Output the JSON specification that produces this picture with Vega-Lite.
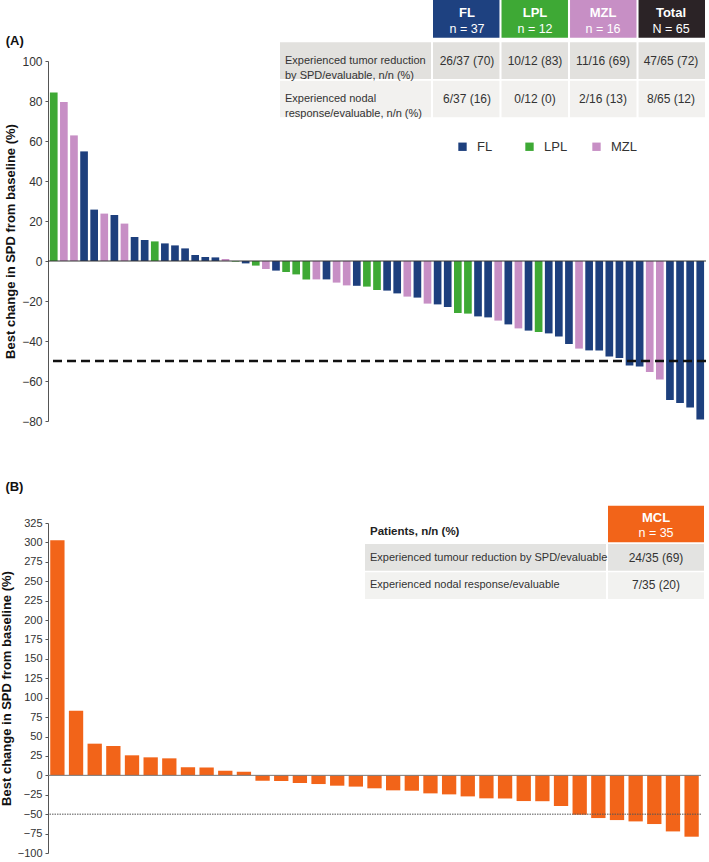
{
  "$schema": "https://vega.github.io/schema/vega-lite/v6.json",
  "background": "white",
  "padding": {"left": 0, "top": 0, "right": 0, "bottom": 0},
  "spacing": 53,
  "config": {
    "view": {"stroke": null},
    "font": "Liberation Sans",
    "axis": {"grid": false}
  },
  "datasets": {
    "A": [
      {"id": 1, "subtype": "LPL", "change": 84.3},
      {"id": 2, "subtype": "MZL", "change": 79.5},
      {"id": 3, "subtype": "MZL", "change": 62.8},
      {"id": 4, "subtype": "FL", "change": 54.8},
      {"id": 5, "subtype": "FL", "change": 25.7},
      {"id": 6, "subtype": "MZL", "change": 23.7},
      {"id": 7, "subtype": "FL", "change": 23.0},
      {"id": 8, "subtype": "MZL", "change": 18.7},
      {"id": 9, "subtype": "FL", "change": 12.0},
      {"id": 10, "subtype": "FL", "change": 10.5},
      {"id": 11, "subtype": "LPL", "change": 9.8},
      {"id": 12, "subtype": "FL", "change": 8.8},
      {"id": 13, "subtype": "FL", "change": 7.8},
      {"id": 14, "subtype": "FL", "change": 6.3},
      {"id": 15, "subtype": "FL", "change": 3.0},
      {"id": 16, "subtype": "FL", "change": 2.0},
      {"id": 17, "subtype": "FL", "change": 1.8},
      {"id": 18, "subtype": "MZL", "change": 1.0},
      {"id": 19, "subtype": "LPL", "change": -0.3},
      {"id": 20, "subtype": "FL", "change": -1.2},
      {"id": 21, "subtype": "LPL", "change": -2.3},
      {"id": 22, "subtype": "MZL", "change": -4.0},
      {"id": 23, "subtype": "FL", "change": -4.8},
      {"id": 24, "subtype": "LPL", "change": -5.5},
      {"id": 25, "subtype": "LPL", "change": -6.7},
      {"id": 26, "subtype": "LPL", "change": -9.2},
      {"id": 27, "subtype": "MZL", "change": -9.2},
      {"id": 28, "subtype": "FL", "change": -9.2},
      {"id": 29, "subtype": "MZL", "change": -10.8},
      {"id": 30, "subtype": "MZL", "change": -12.2},
      {"id": 31, "subtype": "FL", "change": -12.4},
      {"id": 32, "subtype": "LPL", "change": -12.8},
      {"id": 33, "subtype": "LPL", "change": -14.5},
      {"id": 34, "subtype": "FL", "change": -14.8},
      {"id": 35, "subtype": "FL", "change": -16.2},
      {"id": 36, "subtype": "MZL", "change": -17.8},
      {"id": 37, "subtype": "FL", "change": -18.3},
      {"id": 38, "subtype": "MZL", "change": -21.3},
      {"id": 39, "subtype": "FL", "change": -21.7},
      {"id": 40, "subtype": "FL", "change": -23.0},
      {"id": 41, "subtype": "LPL", "change": -26.0},
      {"id": 42, "subtype": "LPL", "change": -26.3},
      {"id": 43, "subtype": "FL", "change": -27.7},
      {"id": 44, "subtype": "FL", "change": -28.2},
      {"id": 45, "subtype": "MZL", "change": -29.8},
      {"id": 46, "subtype": "FL", "change": -31.7},
      {"id": 47, "subtype": "MZL", "change": -33.7},
      {"id": 48, "subtype": "FL", "change": -34.8},
      {"id": 49, "subtype": "LPL", "change": -35.5},
      {"id": 50, "subtype": "FL", "change": -36.2},
      {"id": 51, "subtype": "FL", "change": -37.8},
      {"id": 52, "subtype": "FL", "change": -41.5},
      {"id": 53, "subtype": "MZL", "change": -43.8},
      {"id": 54, "subtype": "FL", "change": -44.7},
      {"id": 55, "subtype": "FL", "change": -44.8},
      {"id": 56, "subtype": "FL", "change": -47.8},
      {"id": 57, "subtype": "FL", "change": -48.5},
      {"id": 58, "subtype": "FL", "change": -52.2},
      {"id": 59, "subtype": "FL", "change": -52.8},
      {"id": 60, "subtype": "MZL", "change": -55.5},
      {"id": 61, "subtype": "MZL", "change": -59.3},
      {"id": 62, "subtype": "FL", "change": -69.5},
      {"id": 63, "subtype": "FL", "change": -71.0},
      {"id": 64, "subtype": "FL", "change": -73.2},
      {"id": 65, "subtype": "FL", "change": -79.2}
    ],
    "B": [
      {"id": 1, "change": 302.8},
      {"id": 2, "change": 83.3},
      {"id": 3, "change": 40.8},
      {"id": 4, "change": 37.8},
      {"id": 5, "change": 25.8},
      {"id": 6, "change": 23.2},
      {"id": 7, "change": 21.9},
      {"id": 8, "change": 10.3},
      {"id": 9, "change": 10.1},
      {"id": 10, "change": 6.0},
      {"id": 11, "change": 4.7},
      {"id": 12, "change": -6.9},
      {"id": 13, "change": -7.3},
      {"id": 14, "change": -9.9},
      {"id": 15, "change": -11.2},
      {"id": 16, "change": -13.3},
      {"id": 17, "change": -14.5},
      {"id": 18, "change": -16.7},
      {"id": 19, "change": -19.3},
      {"id": 20, "change": -19.8},
      {"id": 21, "change": -23.2},
      {"id": 22, "change": -24.5},
      {"id": 23, "change": -27.1},
      {"id": 24, "change": -29.6},
      {"id": 25, "change": -29.8},
      {"id": 26, "change": -33.1},
      {"id": 27, "change": -33.3},
      {"id": 28, "change": -39.5},
      {"id": 29, "change": -50.7},
      {"id": 30, "change": -55.0},
      {"id": 31, "change": -57.6},
      {"id": 32, "change": -59.3},
      {"id": 33, "change": -62.7},
      {"id": 34, "change": -72.2},
      {"id": 35, "change": -79.0}
    ],
    "hA": [
      {"col": "FL", "part": "h", "name": "FL", "n": "n = 37"},
      {"col": "LPL", "part": "h", "name": "LPL", "n": "n = 12"},
      {"col": "MZL", "part": "h", "name": "MZL", "n": "n = 16"},
      {"col": "Total", "part": "h", "name": "Total", "n": "N = 65"}
    ],
    "cA": [
      {"row": "r1", "col": "FL", "val": "26/37 (70)"},
      {"row": "r1", "col": "LPL", "val": "10/12 (83)"},
      {"row": "r1", "col": "MZL", "val": "11/16 (69)"},
      {"row": "r1", "col": "Total", "val": "47/65 (72)"},
      {"row": "r2", "col": "FL", "val": "6/37 (16)"},
      {"row": "r2", "col": "LPL", "val": "0/12 (0)"},
      {"row": "r2", "col": "MZL", "val": "2/16 (13)"},
      {"row": "r2", "col": "Total", "val": "8/65 (12)"}
    ],
    "lA": [
      {"row": "r1", "col": "label", "label": "Experienced tumor reduction\nby SPD/evaluable, n/n (%)"},
      {"row": "r2", "col": "label", "label": "Experienced nodal\nresponse/evaluable, n/n (%)"}
    ],
    "hB": [
      {"col": "MCL", "part": "h", "name": "MCL", "n": "n = 35"}
    ],
    "hBl": [
      {"col": "label", "part": "h", "label": "Patients, n/n (%)"}
    ],
    "cB": [
      {"row": "r1", "col": "MCL", "val": "24/35 (69)"},
      {"row": "r2", "col": "MCL", "val": "7/35 (20)"}
    ],
    "lB": [
      {"row": "r1", "col": "label", "label": "Experienced tumour reduction by SPD/evaluable"},
      {"row": "r2", "col": "label", "label": "Experienced nodal response/evaluable"}
    ]
  },
  "vconcat": [
    {
      "width": 658,
      "height": 360,
      "layer": [
        {
          "layer": [
            {
              "data": {"name": "A"},
              "mark": {"type": "bar"},
              "encoding": {
                "x": {"field": "id", "type": "ordinal", "axis": null, "scale": {"paddingInner": 0.24, "paddingOuter": 0.19}},
                "y": {
                  "field": "change", "type": "quantitative",
                  "scale": {"domain": [-80, 100], "nice": false, "zero": false},
                  "axis": {
                    "title": "Best change in SPD from baseline (%)",
                    "values": [-80, -60, -40, -20, 0, 20, 40, 60, 80, 100],
                    "labelOverlap": false,
                    "titleFontSize": 13, "titleFontWeight": "bold", "titleColor": "#111", "titlePadding": 4,
                    "labelFontSize": 12, "labelColor": "#333", "labelPadding": 3,
                    "tickSize": 3, "tickColor": "#555", "domainColor": "#555"
                  }
                },
                "color": {
                  "field": "subtype", "type": "nominal",
                  "scale": {"domain": ["FL", "LPL", "MZL"], "range": ["#1d3f7d", "#3ea935", "#c78fc5"]},
                  "legend": {
                    "title": null, "orient": "none", "legendX": 408, "legendY": 79,
                    "direction": "horizontal", "columns": 3, "gridAlign": "all",
                    "symbolType": "square", "symbolSize": 70, "symbolStrokeWidth": 0,
                    "labelFontSize": 13, "labelColor": "#333",
                    "labelOffset": 8, "columnPadding": 20, "padding": 0
                  }
                }
              }
            },
            {
              "data": {"values": [{}]},
              "mark": {"type": "rule", "color": "#333", "strokeWidth": 1},
              "encoding": {"y": {"datum": 0, "type": "quantitative", "title": "Best change in SPD from baseline (%)",
                "axis": {
                    "title": "Best change in SPD from baseline (%)",
                    "values": [-80, -60, -40, -20, 0, 20, 40, 60, 80, 100],
                    "labelOverlap": false,
                    "titleFontSize": 13, "titleFontWeight": "bold", "titleColor": "#111", "titlePadding": 4,
                    "labelFontSize": 12, "labelColor": "#333", "labelPadding": 3,
                    "tickSize": 3, "tickColor": "#555", "domainColor": "#555"
                  }}}
            },
            {
              "data": {"values": [{}]},
              "mark": {"type": "rule", "color": "#111", "strokeWidth": 2.5, "strokeDash": [9, 5]},
              "encoding": {"y": {"datum": -50, "type": "quantitative", "title": "Best change in SPD from baseline (%)",
                "axis": {
                    "title": "Best change in SPD from baseline (%)",
                    "values": [-80, -60, -40, -20, 0, 20, 40, 60, 80, 100],
                    "labelOverlap": false,
                    "titleFontSize": 13, "titleFontWeight": "bold", "titleColor": "#111", "titlePadding": 4,
                    "labelFontSize": 12, "labelColor": "#333", "labelPadding": 3,
                    "tickSize": 3, "tickColor": "#555", "domainColor": "#555"
                  }}}
            },
            {
              "data": {"values": [{}]},
              "mark": {"type": "text", "align": "left", "baseline": "middle", "dx": -48, "fontSize": 13, "fontWeight": "bold", "color": "#111"},
              "encoding": {"x": {"datum": 1, "type": "ordinal", "axis": null}, "y": {"datum": 110, "type": "quantitative", "title": "Best change in SPD from baseline (%)",
                "axis": {
                    "title": "Best change in SPD from baseline (%)",
                    "values": [-80, -60, -40, -20, 0, 20, 40, 60, 80, 100],
                    "labelOverlap": false,
                    "titleFontSize": 13, "titleFontWeight": "bold", "titleColor": "#111", "titlePadding": 4,
                    "labelFontSize": 12, "labelColor": "#333", "labelPadding": 3,
                    "tickSize": 3, "tickColor": "#555", "domainColor": "#555"
                  }}, "text": {"value": "(A)"}}
            }
          ]
        },
        {
          "data": {"name": "hA"},
          "mark": {"type": "rect"},
          "encoding": {
            "x": {"field": "col", "type": "nominal", "axis": null, "scale": {"domain": ["FL", "LPL", "MZL", "Total"], "range": [385, 657], "paddingInner": 0.03, "paddingOuter": 0}},
            "y": {"field": "part", "type": "nominal", "axis": null, "scale": {"domain": ["h"], "range": [-61, -23.3], "paddingInner": 0, "paddingOuter": 0}},
            "color": {"field": "col", "type": "nominal", "legend": null, "scale": {"domain": ["FL", "LPL", "MZL", "Total"], "range": ["#1e4180", "#3ea935", "#c78fc5", "#2b2326"]}}
          }
        },
        {
          "data": {"name": "hA"},
          "mark": {"type": "text", "color": "white", "fontWeight": "bold", "fontSize": 13, "dy": -6},
          "encoding": {
            "x": {"field": "col", "type": "nominal", "axis": null, "scale": {"domain": ["FL", "LPL", "MZL", "Total"], "range": [385, 657], "paddingInner": 0.03, "paddingOuter": 0}},
            "y": {"field": "part", "type": "nominal", "axis": null, "scale": {"domain": ["h"], "range": [-61, -23.3], "paddingInner": 0, "paddingOuter": 0}},
            "text": {"field": "name"}
          }
        },
        {
          "data": {"name": "hA"},
          "mark": {"type": "text", "color": "white", "fontSize": 12.5, "dy": 10},
          "encoding": {
            "x": {"field": "col", "type": "nominal", "axis": null, "scale": {"domain": ["FL", "LPL", "MZL", "Total"], "range": [385, 657], "paddingInner": 0.03, "paddingOuter": 0}},
            "y": {"field": "part", "type": "nominal", "axis": null, "scale": {"domain": ["h"], "range": [-61, -23.3], "paddingInner": 0, "paddingOuter": 0}},
            "text": {"field": "n"}
          }
        },
        {
          "data": {"name": "cA"},
          "mark": {"type": "rect"},
          "encoding": {
            "x": {"field": "col", "type": "nominal", "axis": null, "scale": {"domain": ["FL", "LPL", "MZL", "Total"], "range": [385, 657], "paddingInner": 0.03, "paddingOuter": 0}},
            "y": {"field": "row", "type": "nominal", "axis": null, "scale": {"domain": ["r1", "r2"], "range": [-18.7, 56.3], "paddingInner": 0.045, "paddingOuter": 0}},
            "color": {"field": "row", "type": "nominal", "legend": null, "scale": {"domain": ["r1", "r2"], "range": ["#e2e1de", "#f2f1ef"]}}
          }
        },
        {
          "data": {"name": "cA"},
          "mark": {"type": "text", "color": "#333", "fontSize": 12},
          "encoding": {
            "x": {"field": "col", "type": "nominal", "axis": null, "scale": {"domain": ["FL", "LPL", "MZL", "Total"], "range": [385, 657], "paddingInner": 0.03, "paddingOuter": 0}},
            "y": {"field": "row", "type": "nominal", "axis": null, "scale": {"domain": ["r1", "r2"], "range": [-18.7, 56.3], "paddingInner": 0.045, "paddingOuter": 0}},
            "text": {"field": "val"}
          }
        },
        {
          "data": {"name": "lA"},
          "mark": {"type": "rect"},
          "encoding": {
            "x": {"field": "col", "type": "nominal", "axis": null, "scale": {"domain": ["label"], "range": [232, 383], "paddingInner": 0, "paddingOuter": 0}},
            "y": {"field": "row", "type": "nominal", "axis": null, "scale": {"domain": ["r1", "r2"], "range": [-18.7, 56.3], "paddingInner": 0.045, "paddingOuter": 0}},
            "color": {"field": "row", "type": "nominal", "legend": null, "scale": {"domain": ["r1", "r2"], "range": ["#e2e1de", "#f2f1ef"]}}
          }
        },
        {
          "data": {"name": "lA"},
          "mark": {"type": "text", "color": "#333", "fontSize": 11, "align": "left", "dx": 5, "lineBreak": "\n", "lineHeight": 15},
          "encoding": {
            "x": {"field": "col", "type": "nominal", "axis": null, "scale": {"type": "point", "domain": ["label"], "range": [232, 383], "padding": 0, "align": 0}},
            "y": {"field": "row", "type": "nominal", "axis": null, "scale": {"domain": ["r1", "r2"], "range": [-18.7, 56.3], "paddingInner": 0.045, "paddingOuter": 0}},
            "text": {"field": "label"}
          }
        }
      ],
      "resolve": {"scale": {"x": "independent", "y": "independent", "color": "independent"}}
    },
    {
      "width": 653,
      "height": 330,
      "layer": [
        {
          "layer": [
            {
              "data": {"name": "B"},
              "mark": {"type": "bar", "color": "#f26419"},
              "encoding": {
                "x": {"field": "id", "type": "ordinal", "axis": null, "scale": {"paddingInner": 0.233, "paddingOuter": 0.12}},
                "y": {
                  "field": "change", "type": "quantitative",
                  "scale": {"domain": [-100, 325], "nice": false, "zero": false},
                  "axis": {
                    "title": "Best change in SPD from baseline (%)",
                    "values": [-100, -75, -50, -25, 0, 25, 50, 75, 100, 125, 150, 175, 200, 225, 250, 275, 300, 325],
                    "labelOverlap": false,
                    "titleFontSize": 13, "titleFontWeight": "bold", "titleColor": "#111", "titlePadding": 4,
                    "labelFontSize": 11, "labelColor": "#333", "labelPadding": 3,
                    "tickSize": 3, "tickColor": "#555", "domainColor": "#555"
                  }
                }
              }
            },
            {
              "data": {"values": [{}]},
              "mark": {"type": "rule", "color": "#777", "strokeWidth": 1},
              "encoding": {"y": {"datum": 0, "type": "quantitative", "title": "Best change in SPD from baseline (%)",
                "axis": {
                    "title": "Best change in SPD from baseline (%)",
                    "values": [-100, -75, -50, -25, 0, 25, 50, 75, 100, 125, 150, 175, 200, 225, 250, 275, 300, 325],
                    "labelOverlap": false,
                    "titleFontSize": 13, "titleFontWeight": "bold", "titleColor": "#111", "titlePadding": 4,
                    "labelFontSize": 11, "labelColor": "#333", "labelPadding": 3,
                    "tickSize": 3, "tickColor": "#555", "domainColor": "#555"
                  }}}
            },
            {
              "data": {"values": [{}]},
              "mark": {"type": "rule", "color": "#555", "strokeWidth": 1, "strokeDash": [1.5, 1]},
              "encoding": {"y": {"datum": -50, "type": "quantitative", "title": "Best change in SPD from baseline (%)",
                "axis": {
                    "title": "Best change in SPD from baseline (%)",
                    "values": [-100, -75, -50, -25, 0, 25, 50, 75, 100, 125, 150, 175, 200, 225, 250, 275, 300, 325],
                    "labelOverlap": false,
                    "titleFontSize": 13, "titleFontWeight": "bold", "titleColor": "#111", "titlePadding": 4,
                    "labelFontSize": 11, "labelColor": "#333", "labelPadding": 3,
                    "tickSize": 3, "tickColor": "#555", "domainColor": "#555"
                  }}}
            },
            {
              "data": {"values": [{}]},
              "mark": {"type": "text", "align": "left", "baseline": "middle", "dx": -52, "fontSize": 13, "fontWeight": "bold", "color": "#111"},
              "encoding": {"x": {"datum": 1, "type": "ordinal", "axis": null}, "y": {"datum": 372, "type": "quantitative", "title": "Best change in SPD from baseline (%)",
                "axis": {
                    "title": "Best change in SPD from baseline (%)",
                    "values": [-100, -75, -50, -25, 0, 25, 50, 75, 100, 125, 150, 175, 200, 225, 250, 275, 300, 325],
                    "labelOverlap": false,
                    "titleFontSize": 13, "titleFontWeight": "bold", "titleColor": "#111", "titlePadding": 4,
                    "labelFontSize": 11, "labelColor": "#333", "labelPadding": 3,
                    "tickSize": 3, "tickColor": "#555", "domainColor": "#555"
                  }}, "text": {"value": "(B)"}}
            }
          ]
        },
        {
          "data": {"name": "hB"},
          "mark": {"type": "rect", "color": "#f26419"},
          "encoding": {
            "x": {"field": "col", "type": "nominal", "axis": null, "scale": {"domain": ["MCL"], "range": [560, 656], "paddingInner": 0, "paddingOuter": 0}},
            "y": {"field": "part", "type": "nominal", "axis": null, "scale": {"domain": ["h"], "range": [-17.3, 19.3], "paddingInner": 0, "paddingOuter": 0}}
          }
        },
        {
          "data": {"name": "hB"},
          "mark": {"type": "text", "color": "white", "fontWeight": "bold", "fontSize": 13, "dy": -6},
          "encoding": {
            "x": {"field": "col", "type": "nominal", "axis": null, "scale": {"domain": ["MCL"], "range": [560, 656], "paddingInner": 0, "paddingOuter": 0}},
            "y": {"field": "part", "type": "nominal", "axis": null, "scale": {"domain": ["h"], "range": [-17.3, 19.3], "paddingInner": 0, "paddingOuter": 0}},
            "text": {"field": "name"}
          }
        },
        {
          "data": {"name": "hB"},
          "mark": {"type": "text", "color": "white", "fontSize": 12.5, "dy": 9},
          "encoding": {
            "x": {"field": "col", "type": "nominal", "axis": null, "scale": {"domain": ["MCL"], "range": [560, 656], "paddingInner": 0, "paddingOuter": 0}},
            "y": {"field": "part", "type": "nominal", "axis": null, "scale": {"domain": ["h"], "range": [-17.3, 19.3], "paddingInner": 0, "paddingOuter": 0}},
            "text": {"field": "n"}
          }
        },
        {
          "data": {"name": "hBl"},
          "mark": {"type": "text", "color": "#222", "fontWeight": "bold", "fontSize": 11.5, "align": "left", "dx": 5, "dy": 8},
          "encoding": {
            "x": {"field": "col", "type": "nominal", "axis": null, "scale": {"type": "point", "domain": ["label"], "range": [317, 558], "padding": 0, "align": 0}},
            "y": {"field": "part", "type": "nominal", "axis": null, "scale": {"domain": ["h"], "range": [-17.3, 19.3], "paddingInner": 0, "paddingOuter": 0}},
            "text": {"field": "label"}
          }
        },
        {
          "data": {"name": "cB"},
          "mark": {"type": "rect"},
          "encoding": {
            "x": {"field": "col", "type": "nominal", "axis": null, "scale": {"domain": ["MCL"], "range": [560, 656], "paddingInner": 0, "paddingOuter": 0}},
            "y": {"field": "row", "type": "nominal", "axis": null, "scale": {"domain": ["r1", "r2"], "range": [21, 76], "paddingInner": 0.06, "paddingOuter": 0}},
            "color": {"field": "row", "type": "nominal", "legend": null, "scale": {"domain": ["r1", "r2"], "range": ["#e3e3e1", "#f2f2f0"]}}
          }
        },
        {
          "data": {"name": "cB"},
          "mark": {"type": "text", "color": "#333", "fontSize": 12},
          "encoding": {
            "x": {"field": "col", "type": "nominal", "axis": null, "scale": {"domain": ["MCL"], "range": [560, 656], "paddingInner": 0, "paddingOuter": 0}},
            "y": {"field": "row", "type": "nominal", "axis": null, "scale": {"domain": ["r1", "r2"], "range": [21, 76], "paddingInner": 0.06, "paddingOuter": 0}},
            "text": {"field": "val"}
          }
        },
        {
          "data": {"name": "lB"},
          "mark": {"type": "rect"},
          "encoding": {
            "x": {"field": "col", "type": "nominal", "axis": null, "scale": {"domain": ["label"], "range": [317, 558], "paddingInner": 0, "paddingOuter": 0}},
            "y": {"field": "row", "type": "nominal", "axis": null, "scale": {"domain": ["r1", "r2"], "range": [21, 76], "paddingInner": 0.06, "paddingOuter": 0}},
            "color": {"field": "row", "type": "nominal", "legend": null, "scale": {"domain": ["r1", "r2"], "range": ["#e3e3e1", "#f2f2f0"]}}
          }
        },
        {
          "data": {"name": "lB"},
          "mark": {"type": "text", "color": "#333", "fontSize": 11, "align": "left", "dx": 5},
          "encoding": {
            "x": {"field": "col", "type": "nominal", "axis": null, "scale": {"type": "point", "domain": ["label"], "range": [317, 558], "padding": 0, "align": 0}},
            "y": {"field": "row", "type": "nominal", "axis": null, "scale": {"domain": ["r1", "r2"], "range": [21, 76], "paddingInner": 0.06, "paddingOuter": 0}},
            "text": {"field": "label"}
          }
        }
      ],
      "resolve": {"scale": {"x": "independent", "y": "independent", "color": "independent"}}
    }
  ]
}
